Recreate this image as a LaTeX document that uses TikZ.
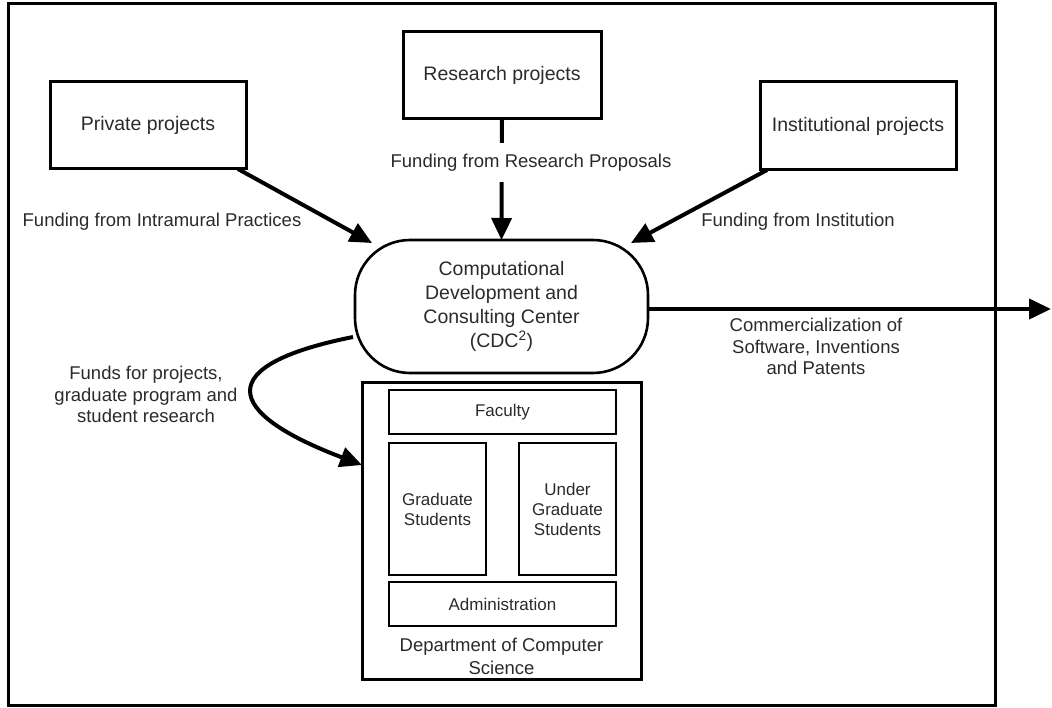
\documentclass[tikz,border=0pt]{standalone}
\usepackage{fontspec}
\setmainfont{Liberation Sans}
\usetikzlibrary{arrows.meta}
\definecolor{txt}{HTML}{2A2A2A}
\begin{document}
\begin{tikzpicture}[x=1pt,y=-1pt,
  every node/.style={text=txt,inner sep=0pt,outer sep=0pt},
  projbox/.style={draw=black,line width=3pt,align=center,font=\fontsize{19.5}{23}\selectfont},
  deptbox/.style={draw=black,line width=2.6pt,align=center,font=\fontsize{17}{20}\selectfont},
  lbl/.style={align=center,font=\fontsize{18.5}{21.5}\selectfont},
  arr/.style={line width=4pt,-{Triangle[length=22pt,width=20pt]}}]
\useasboundingbox (0,0) rectangle (1052,708);
% outer frame
\draw[line width=3pt] (8,4) rectangle (995,705);
% project boxes
\node[projbox,minimum width=196pt,minimum height=87pt] (priv) at (148,125.5) {Private projects};
\node[projbox,minimum width=198pt,minimum height=87pt] (res) at (502,75.5) {Research projects};
\node[projbox,minimum width=196pt,minimum height=88pt] (inst) at (858,126) {Institutional projects};
% centre
\node[draw=black,line width=2.6pt,rounded corners=55pt,minimum width=293pt,minimum height=133pt,
      align=center,font=\fontsize{19.5}{24}\selectfont] (cdc) at (501.5,306.5)
  {Computational\\Development and\\Consulting Center\\(CDC\textsuperscript{2})};
% department
\node[draw=black,line width=3pt,minimum width=279pt,minimum height=296pt] (dept) at (501.5,531) {};
\node[deptbox,minimum width=227pt,minimum height=44pt] (fac) at (502.5,412) {Faculty};
\node[deptbox,minimum width=97pt,minimum height=132pt] (grad) at (437.5,509) {Graduate\\Students};
\node[deptbox,minimum width=97pt,minimum height=132pt] (ugrad) at (567.5,509) {Under\\Graduate\\Students};
\node[deptbox,minimum width=227pt,minimum height=44pt] (adm) at (502.5,604) {Administration};
\node[lbl,font=\fontsize{18.5}{23}\selectfont] (deptlbl) at (501.5,656.5) {Department of Computer\\Science};
% coordinates
\coordinate (pinL) at (372,243);
\coordinate (pinR) at (631,243);
\coordinate (cdcSW) at (353,337);
\coordinate (outR) at (1051,309);
% arrows
\draw[arr] ([xshift=-8pt]priv.south east) -- (pinL);
\draw[arr] ([xshift=7pt]inst.south west) -- (pinR);
\draw[arr] (res.south) -- (cdc.north);
\draw[arr] ([yshift=-2.5pt]cdc.east) -- (outR);
\draw[arr] (cdcSW) .. controls (213,365) and (222,412) .. ([yshift=66pt]dept.west);
% labels
\node[lbl,fill=white,minimum height=39pt,inner xsep=2pt] (lres) at (531,163) {Funding from Research Proposals};
\node[lbl] (lpriv) at (162,222) {Funding from Intramural Practices};
\node[lbl] (linst) at (798,222) {Funding from Institution};
\node[lbl] (lfunds) at (146,394.5) {Funds for projects,\\graduate program and\\student research};
\node[lbl] (lcom) at (816,346.5) {Commercialization of\\Software, Inventions\\and Patents};
\end{tikzpicture}
\end{document}
